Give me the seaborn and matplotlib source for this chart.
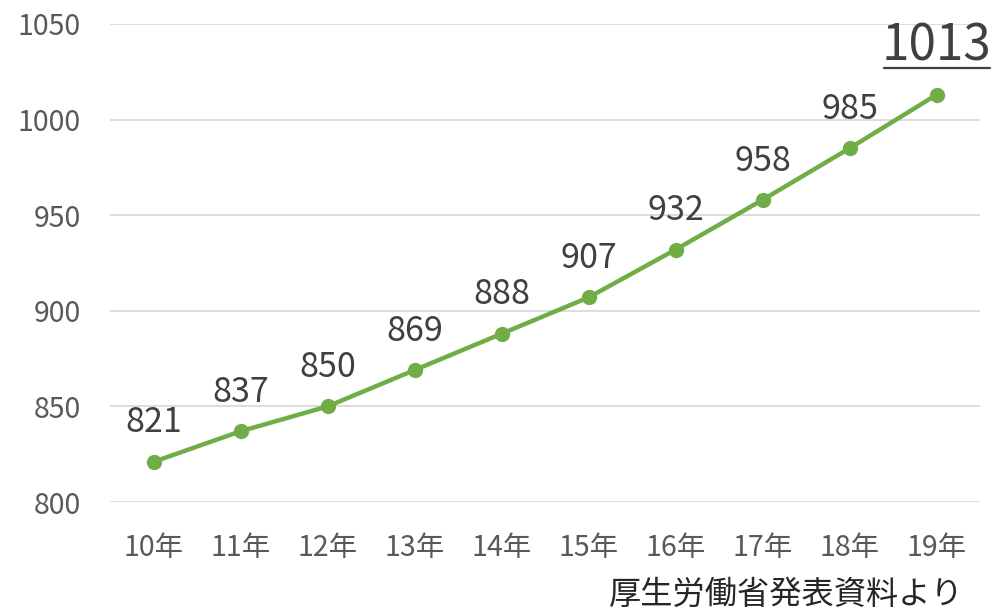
import matplotlib
matplotlib.use('Agg')
import matplotlib.pyplot as plt
import seaborn as sns
import pandas as pd

# ── Data ─────────────────────────────────────────────────────────────────────
YEARS  = ['10年', '11年', '12年', '13年', '14年', '15年', '16年', '17年', '18年', '19年']
VALUES = [821, 837, 850, 869, 888, 907, 932, 958, 985, 1013]
Y_TICKS = [800, 850, 900, 950, 1000, 1050]
SOURCE = '厚生労働省発表資料より'

GREEN = '#70ad47'
TEXT  = '#404040'
TICK  = '#595959'

sns.set_theme(style='white')
plt.rcParams['font.family'] = ['Noto Sans CJK JP', 'DejaVu Sans']

df = pd.DataFrame({'year': YEARS, 'value': VALUES})

fig = plt.figure(figsize=(9.94, 6.15), dpi=100)
ax = fig.add_axes([0.1107, 0.1837, 0.8753, 0.7773])

sns.lineplot(data=df, x='year', y='value', sort=False, ax=ax,
             color=GREEN, linewidth=3.2, marker='o', markersize=11,
             markeredgewidth=0)

ax.set_ylim(800, 1050)
ax.set_xlim(-0.5, len(YEARS) - 0.5)
ax.set_yticks(Y_TICKS)
ax.set_xlabel('')
ax.set_ylabel('')
ax.grid(axis='y', color='#d9d9d9', linewidth=1.3)
ax.set_axisbelow(True)
for s in ax.spines.values():
    s.set_visible(False)
ax.tick_params(axis='both', length=0, labelsize=20.5, colors=TICK)
ax.tick_params(axis='y', pad=21)
ax.tick_params(axis='x', pad=22)

# data labels
for i, v in enumerate(VALUES[:-1]):
    ax.annotate(str(v), (i, v), xytext=(0, 28), textcoords='offset points',
                ha='center', va='center', fontsize=24.5, color=TEXT)

# last value, bigger and underlined
ax.annotate(str(VALUES[-1]), (len(VALUES) - 1, VALUES[-1]),
            xytext=(0, 35), textcoords='offset points',
            ha='center', va='center', fontsize=35.5, color=TEXT)
fig.add_artist(plt.Line2D([884 / 994, 990 / 994], [1 - 68 / 615] * 2,
                          transform=fig.transFigure, color=TEXT, linewidth=1.6))

fig.text(0.97, 0.033, SOURCE, ha='right', va='center', fontsize=23.2, color='#262626')

fig.savefig('out.png', dpi=100)
